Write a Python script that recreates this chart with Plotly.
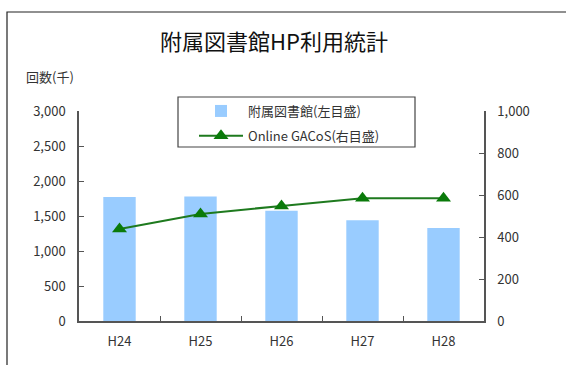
import plotly.graph_objects as go

# 年度別の利用回数（千回）
years = ["H24", "H25", "H26", "H27", "H28"]
library_hp = [1770, 1780, 1575, 1440, 1330]      # 附属図書館（左目盛）
online_gacos = [438, 510, 548, 585, 585]          # Online GACoS（右目盛）

left_ticks = [0, 500, 1000, 1500, 2000, 2500, 3000]
right_ticks = [0, 200, 400, 600, 800, 1000]

FONT = "Noto Sans CJK JP"
AXIS_COLOR = "#555555"
TEXT_COLOR = "#333333"

fig = go.Figure()

fig.add_trace(go.Bar(
    x=years, y=library_hp, name="附属図書館(左目盛)",
    marker=dict(color="#99CCFF", line=dict(width=0)),
    yaxis="y", legendgroup="a",
))

fig.add_trace(go.Scatter(
    x=years, y=online_gacos, name="Online GACoS(右目盛)",
    mode="lines+markers",
    line=dict(color="#1E7A1E", width=2),
    marker=dict(symbol="triangle-up", size=13, color="#0A7A0A"),
    yaxis="y2", legendgroup="b",
))

W, H = 566, 365
L, R, T, B = 79, 82, 111, 44
pw, ph = W - L - R, H - T - B

def px_x(px):
    return (px - L) / pw

def px_y(py):
    return (H - B - py) / ph

fig.update_layout(
    width=W, height=H,
    margin=dict(l=L, r=R, t=T, b=B),
    paper_bgcolor="white", plot_bgcolor="white",
    font=dict(family=FONT, size=13, color=TEXT_COLOR),
    bargap=0.6,
    showlegend=True,
    title=dict(
        text="附属図書館HP利用統計",
        x=274 / W, xanchor="center",
        y=1 - 42 / H, yanchor="middle",
        font=dict(family=FONT, size=22, color="#111111"),
    ),
    legend=dict(
        x=px_x(194), y=px_y(96), xanchor="left", yanchor="top",
        borderwidth=0, bgcolor="rgba(0,0,0,0)",
        font=dict(family=FONT, size=13, color=TEXT_COLOR),
        itemwidth=44, tracegroupgap=5,
    ),
    xaxis=dict(
        type="category",
        showline=True, linecolor=AXIS_COLOR, linewidth=1.5,
        ticks="inside", tickson="boundaries", ticklen=5,
        tickcolor=AXIS_COLOR,
        showgrid=False, zeroline=False,
        ticklabelstandoff=8,
        tickfont=dict(size=13, color=TEXT_COLOR),
    ),
    yaxis=dict(
        range=[0, 3000], tickvals=left_ticks, tickformat=",",
        showline=True, linecolor=AXIS_COLOR, linewidth=1.5,
        ticks="inside", ticklen=5, tickcolor=AXIS_COLOR,
        showgrid=False, zeroline=False,
        ticklabelstandoff=9,
        tickfont=dict(size=13, color=TEXT_COLOR),
    ),
    yaxis2=dict(
        range=[0, 1000], tickvals=right_ticks, tickformat=",",
        overlaying="y", side="right",
        showline=True, linecolor=AXIS_COLOR, linewidth=1.5,
        ticks="inside", ticklen=5, tickcolor=AXIS_COLOR,
        showgrid=False, zeroline=False,
        ticklabelstandoff=9,
        tickfont=dict(size=13, color=TEXT_COLOR),
    ),
)

# 凡例の枠
fig.add_shape(
    type="rect", xref="paper", yref="paper",
    x0=px_x(178), y0=px_y(147), x1=px_x(415), y1=px_y(97),
    line=dict(color="#444444", width=1.2), fillcolor="white", layer="below",
)

# 左軸の単位
fig.add_annotation(
    text="回数(千)", xref="paper", yref="paper",
    x=px_x(24), y=px_y(77), xanchor="left", yanchor="middle",
    showarrow=False, font=dict(family=FONT, size=13, color=TEXT_COLOR),
)

# グラフ全体の外枠
fig.add_shape(
    type="rect", xref="paper", yref="paper",
    x0=px_x(7), y0=px_y(380), x1=px_x(580), y1=px_y(12),
    line=dict(color="#222222", width=1.2), layer="below",
)

fig.write_html("out.html")
